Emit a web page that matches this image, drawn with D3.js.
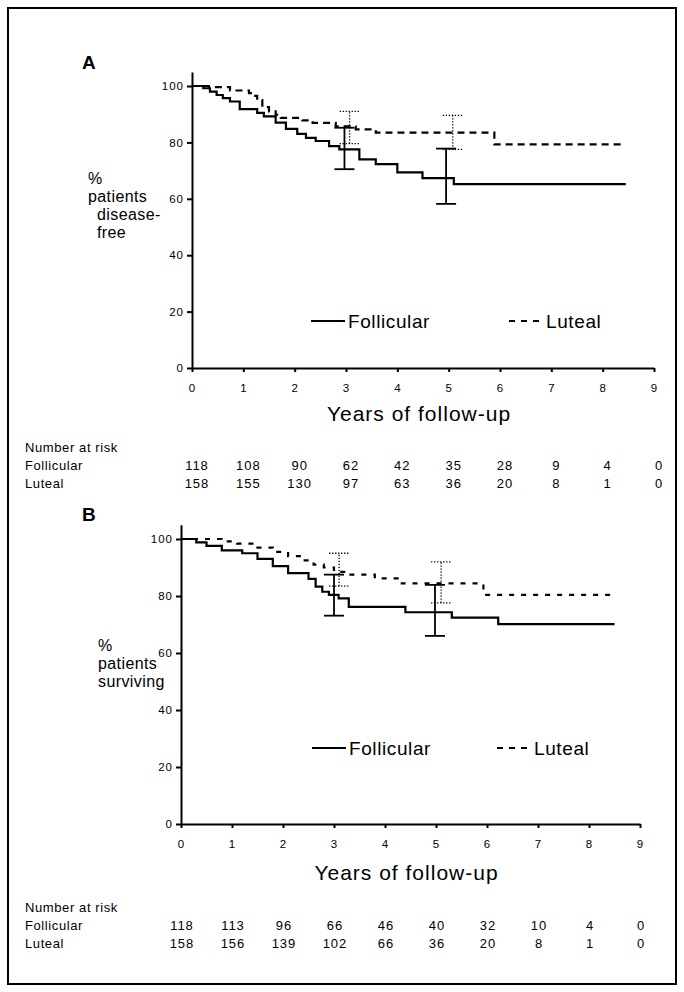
<!DOCTYPE html>
<html>
<head>
<meta charset="utf-8">
<script src="https://cdn.jsdelivr.net/npm/d3@7/dist/d3.min.js"></script>
<style>
  body { margin: 0; background: #fff; }
  svg { font-family: "Liberation Sans", Arial, sans-serif; }
  .axis path, .axis line { stroke: #000; stroke-width: 2; }
  .axis text { font-size: 11.5px; letter-spacing: 1px; fill: #000; font-family: "Liberation Sans", Arial, sans-serif; }
</style>
</head>
<body>
<div id="contents"></div>
<script>
// years of follow-up, tick labels
var years = [0, 1, 2, 3, 4, 5, 6, 7, 8, 9];
var yTicks = [0, 20, 40, 60, 80, 100];

// panel A: % disease-free (step times and levels)
var folA_t = [0, 0.22, 0.35, 0.48, 0.6, 0.74, 0.93, 1.27, 1.4, 1.63, 1.83, 2.05, 2.22, 2.41, 2.67, 2.87, 3.26, 3.58, 4.0, 4.49, 5.1, 8.45];
var folA_v = [100, 99.2, 98, 96.8, 95.7, 94.5, 91.8, 90.5, 89.2, 87, 84.8, 83, 81.6, 80.5, 78.7, 77.5, 74, 72.3, 69.4, 67.3, 65.2, 65.2];
var lutA_t = [0, 0.33, 0.74, 1.11, 1.2, 1.27, 1.37, 1.5, 1.63, 1.73, 2.15, 2.35, 2.8, 3.19, 3.58, 5.89, 8.36];
var lutA_v = [100, 99.6, 98.4, 97.5, 96.5, 95, 92.5, 91, 89.8, 88.7, 87.8, 86.9, 85.7, 84.6, 83.5, 79.3, 79.3];
// error bars: [year, low, high]
var folA_err = [[2.97, 70.5, 85.2], [4.95, 58.2, 77.8]];
var lutA_err = [[3.07, 79.6, 91], [5.08, 77.5, 89.6]];

// panel B: % surviving
var folB_t = [0, 0.3, 0.5, 0.8, 1.2, 1.5, 1.8, 2.1, 2.5, 2.64, 2.77, 2.9, 3.09, 3.29, 4.4, 5.31, 6.22, 8.5];
var folB_v = [100, 98.8, 97.6, 96, 95, 93, 90.5, 88, 86, 83.3, 81.5, 80.4, 79.2, 76.2, 74.3, 72.4, 70.1, 70.1];
var lutB_t = [0, 0.8, 1.1, 1.5, 1.8, 2.1, 2.4, 2.6, 2.8, 3.0, 3.3, 3.8, 4.33, 5.93, 8.43];
var lutB_v = [100, 99.2, 98.4, 97, 95.5, 94, 92.5, 91, 90, 88.5, 87.5, 86.2, 84.4, 80.4, 80.4];
var folB_err = [[3.0, 73.1, 87.5], [4.98, 66, 83.9]];
var lutB_err = [[3.1, 83.5, 95], [5.1, 77.6, 92]];

// number at risk
var riskFolA = [118, 108, 90, 62, 42, 35, 28, 9, 4, 0];
var riskLutA = [158, 155, 130, 97, 63, 36, 20, 8, 1, 0];
var riskFolB = [118, 113, 96, 66, 46, 40, 32, 10, 4, 0];
var riskLutB = [158, 156, 139, 102, 66, 36, 20, 8, 1, 0];

var svg = d3.select("#contents").append("svg")
    .attr("width", 684)
    .attr("height", 992);

svg.append("rect")
    .attr("x", 8).attr("y", 8)
    .attr("width", 668).attr("height", 976)
    .attr("fill", "none")
    .attr("stroke", "#000")
    .attr("stroke-width", 2);

function zip(t, v) {
    return t.map(function(d, i) { return [d, v[i]]; });
}

function drawPanel(p) {
    var x = d3.scaleLinear().domain([0, 9]).range([p.x0, p.x9]);
    var y = d3.scaleLinear().domain([0, 105]).range([p.y0, p.y0 - 105 * p.k]);

    svg.append("text")
        .attr("x", p.labX).attr("y", p.labY)
        .style("font-size", "19px").style("font-weight", "bold")
        .text(p.name);

    svg.append("g")
        .attr("class", "axis")
        .attr("transform", "translate(" + p.x0 + ",0)")
        .call(d3.axisLeft(y).tickValues(yTicks).tickSizeInner(5).tickSizeOuter(0).tickPadding(3));

    svg.append("g")
        .attr("class", "axis")
        .attr("transform", "translate(0," + p.y0 + ")")
        .call(d3.axisBottom(x).tickValues(years).tickSizeInner(4).tickSizeOuter(0).tickPadding(12));

    var line = d3.line()
        .x(function(d) { return x(d[0]); })
        .y(function(d) { return y(d[1]); })
        .curve(d3.curveStepAfter);

    svg.append("path")
        .datum(zip(p.folT, p.folV))
        .attr("d", line)
        .attr("fill", "none").attr("stroke", "#000").attr("stroke-width", 2.2);

    svg.append("path")
        .datum(zip(p.lutT, p.lutV))
        .attr("d", line)
        .attr("fill", "none").attr("stroke", "#000").attr("stroke-width", 2.2)
        .attr("stroke-dasharray", p.dash);

    // error bars
    function bars(data, dotted) {
        var g = svg.append("g")
            .attr("stroke", "#000")
            .attr("stroke-width", dotted ? 1.3 : 1.8)
            .attr("stroke-dasharray", dotted ? "1.3,1.7" : null);
        data.forEach(function(d) {
            var cx = x(d[0]);
            g.append("line").attr("x1", cx).attr("x2", cx).attr("y1", y(d[1])).attr("y2", y(d[2]));
            g.append("line").attr("x1", cx - 10).attr("x2", cx + 10).attr("y1", y(d[1])).attr("y2", y(d[1]));
            g.append("line").attr("x1", cx - 10).attr("x2", cx + 10).attr("y1", y(d[2])).attr("y2", y(d[2]));
        });
    }
    bars(p.folErr, false);
    bars(p.lutErr, true);

    // y label
    p.ylab.forEach(function(s, i) {
        svg.append("text")
            .attr("x", p.ylabX[i]).attr("y", p.ylabY + i * 18)
            .style("font-size", "16px").style("letter-spacing", "0.4px")
            .text(s);
    });

    // legend
    var lg = svg.append("g");
    lg.append("line")
        .attr("x1", p.legX).attr("x2", p.legX + 34)
        .attr("y1", p.legY).attr("y2", p.legY)
        .attr("stroke", "#000").attr("stroke-width", 2);
    lg.append("text").attr("x", p.legX + 37).attr("y", p.legY + 7)
        .style("font-size", "19px").style("letter-spacing", "0.6px").text("Follicular");
    lg.append("line")
        .attr("x1", p.legX2).attr("x2", p.legX2 + 34)
        .attr("y1", p.legY).attr("y2", p.legY)
        .attr("stroke", "#000").attr("stroke-width", 2)
        .attr("stroke-dasharray", "6,6");
    lg.append("text").attr("x", p.legX2 + 37).attr("y", p.legY + 7)
        .style("font-size", "19px").style("letter-spacing", "0.6px").text("Luteal");

    svg.append("text")
        .attr("x", (p.x0 + p.x9) / 2 - 4).attr("y", p.titleY)
        .attr("text-anchor", "middle")
        .style("font-size", "21px").style("letter-spacing", "1px")
        .text("Years of follow-up");

    // number at risk table
    svg.append("text").attr("x", 25).attr("y", p.tabY)
        .style("font-size", "13px").style("letter-spacing", "0.6px").text("Number at risk");
    [["Follicular", p.riskFol], ["Luteal", p.riskLut]].forEach(function(r, j) {
        var yy = p.tabY + 18 + j * 18;
        svg.append("text").attr("x", 25).attr("y", yy)
            .style("font-size", "13px").style("letter-spacing", "0.6px").text(r[0]);
        svg.selectAll(null)
            .data(r[1])
            .enter().append("text")
            .attr("x", function(d, i) { return x(years[i]) + p.tabDx; })
            .attr("y", yy)
            .attr("text-anchor", "middle")
            .style("font-size", "13px").style("letter-spacing", "1px")
            .text(function(d) { return d; });
    });
}

drawPanel({
    name: "A", labX: 82, labY: 69,
    x0: 192, x9: 654, y0: 368, k: 2.82,
    folT: folA_t, folV: folA_v, lutT: lutA_t, lutV: lutA_v,
    folErr: folA_err, lutErr: lutA_err, dash: "7,5",
    ylab: ["%", "patients", "disease-", "free"], ylabX: [88, 88, 97, 97], ylabY: 184,
    legX: 311, legX2: 509, legY: 321,
    titleY: 421, tabY: 452,
    riskFol: riskFolA, riskLut: riskLutA, tabDx: 5
});

drawPanel({
    name: "B", labX: 82, labY: 521,
    x0: 181, x9: 640, y0: 824, k: 2.85,
    folT: folB_t, folV: folB_v, lutT: lutB_t, lutV: lutB_v,
    folErr: folB_err, lutErr: lutB_err, dash: "5,7",
    ylab: ["%", "patients", "surviving"], ylabX: [98, 98, 98], ylabY: 651,
    legX: 312, legX2: 497, legY: 748,
    titleY: 880, tabY: 912,
    riskFol: riskFolB, riskLut: riskLutB, tabDx: 1
});
</script>
</body>
</html>
